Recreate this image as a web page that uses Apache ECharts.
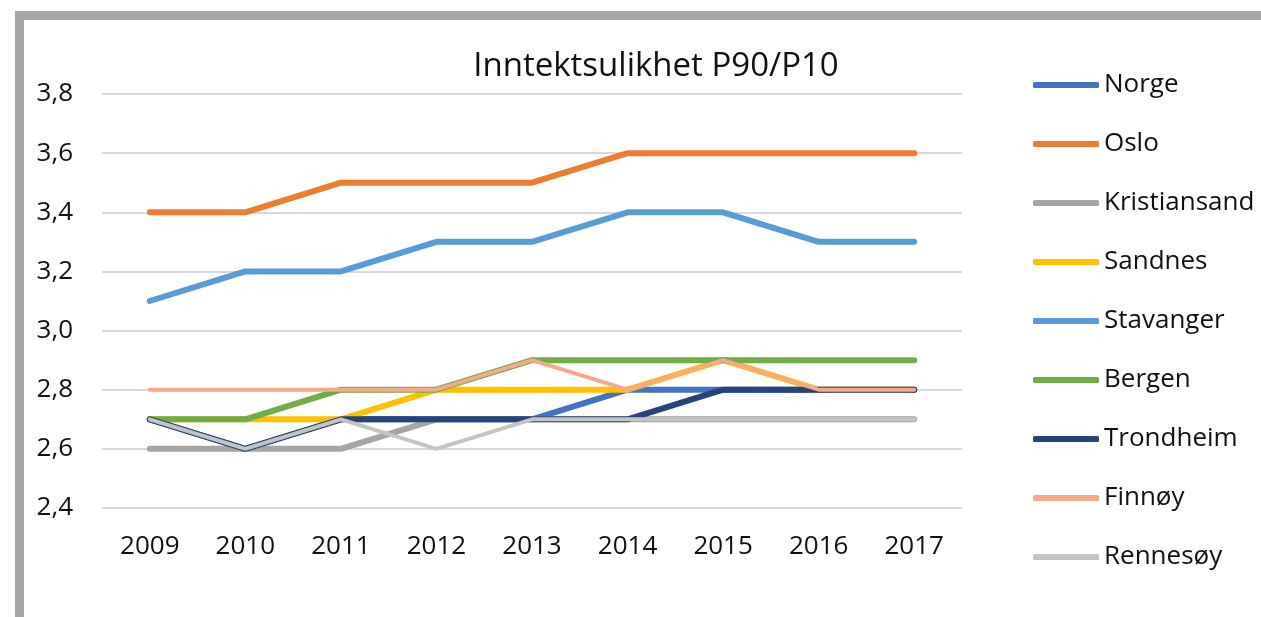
<!DOCTYPE html>
<html>
<head>
<meta charset="utf-8">
<script src="https://cdn.jsdelivr.net/npm/echarts@6/dist/echarts.min.js"></script>
<style>
  html, body { margin: 0; padding: 0; background: #fff; }
  #frame {
    position: absolute; left: 15px; top: 11px; right: 0; bottom: 0;
    border-top: 9px solid #a6a6a6; border-left: 9px solid #a6a6a6;
  }
  #chart { position: absolute; left: 0; top: 0; width: 1261px; height: 617px; }
</style>
</head>
<body>
<div id="frame"></div>
<div id="chart"></div>
<script>
const years = ['2009', '2010', '2011', '2012', '2013', '2014', '2015', '2016', '2017'];

const norge        = [2.7, 2.6, 2.7, 2.7, 2.7, 2.8, 2.8, 2.8, 2.8];
const oslo         = [3.4, 3.4, 3.5, 3.5, 3.5, 3.6, 3.6, 3.6, 3.6];
const kristiansand = [2.6, 2.6, 2.6, 2.7, 2.7, 2.7, 2.7, 2.7, 2.7];
const sandnes      = [2.7, 2.7, 2.7, 2.8, 2.8, 2.8, 2.9, 2.8, 2.8];
const stavanger    = [3.1, 3.2, 3.2, 3.3, 3.3, 3.4, 3.4, 3.3, 3.3];
const bergen       = [2.7, 2.7, 2.8, 2.8, 2.9, 2.9, 2.9, 2.9, 2.9];
const trondheim    = [2.7, 2.6, 2.7, 2.7, 2.7, 2.7, 2.8, 2.8, 2.8];
const finnoy       = [2.8, 2.8, 2.8, 2.8, 2.9, 2.8, 2.9, 2.8, 2.8];
const rennesoy     = [2.7, 2.6, 2.7, 2.6, 2.7, 2.7, 2.7, 2.7, 2.7];

const font = '"Open Sans", "Noto Sans", sans-serif';
const textColor = '#111';

function line(name, data, color, width) {
    return {
        name: name,
        type: 'line',
        data: data,
        symbol: 'none',
        lineStyle: { color: color, width: width, cap: 'round', join: 'round' },
        itemStyle: { color: color }
    };
}

const chart = echarts.init(document.getElementById('chart'));

chart.setOption({
    animation: false,
    title: {
        text: 'Inntektsulikhet P90/P10',
        left: 651,
        textAlign: 'center',
        top: 45,
        textStyle: { fontFamily: font, fontSize: 33, fontWeight: 'normal', color: textColor }
    },
    legend: {
        orient: 'vertical',
        left: 1033,
        top: 70,
        padding: 0,
        icon: 'roundRect',
        itemWidth: 66,
        itemHeight: 6,
        itemGap: 29,
        textStyle: { fontFamily: font, fontSize: 26, color: textColor, lineHeight: 30 },
        data: ['Norge', 'Oslo', 'Kristiansand', 'Sandnes', 'Stavanger', 'Bergen', 'Trondheim', 'Finnøy', 'Rennesøy']
    },
    grid: { left: 102, right: 299, top: 94, bottom: 109 },
    xAxis: {
        type: 'category',
        data: years,
        axisLine: { show: false },
        axisTick: { show: false },
        axisLabel: { fontFamily: font, fontSize: 26, color: textColor, margin: 26 }
    },
    yAxis: {
        type: 'value',
        min: 2.4,
        max: 3.8,
        interval: 0.2,
        axisLine: { show: false },
        axisTick: { show: false },
        splitLine: { lineStyle: { color: '#d9d9d9', width: 2 } },
        axisLabel: {
            fontFamily: font, fontSize: 26, color: textColor, margin: 29,
            formatter: v => v.toFixed(1).replace('.', ',')
        }
    },
    series: [
        line('Norge', norge, '#4472c4', 6),
        line('Oslo', oslo, '#ed7d31', 6),
        line('Kristiansand', kristiansand, '#a5a5a5', 6),
        line('Sandnes', sandnes, '#ffc000', 6),
        line('Stavanger', stavanger, '#5b9bd5', 6),
        line('Bergen', bergen, '#70ad47', 6),
        line('Trondheim', trondheim, '#264478', 6),
        line('Finnøy', finnoy, '#f4a98a', 4),
        line('Rennesøy', rennesoy, '#c4c4c4', 4)
    ]
});
</script>
</body>
</html>
